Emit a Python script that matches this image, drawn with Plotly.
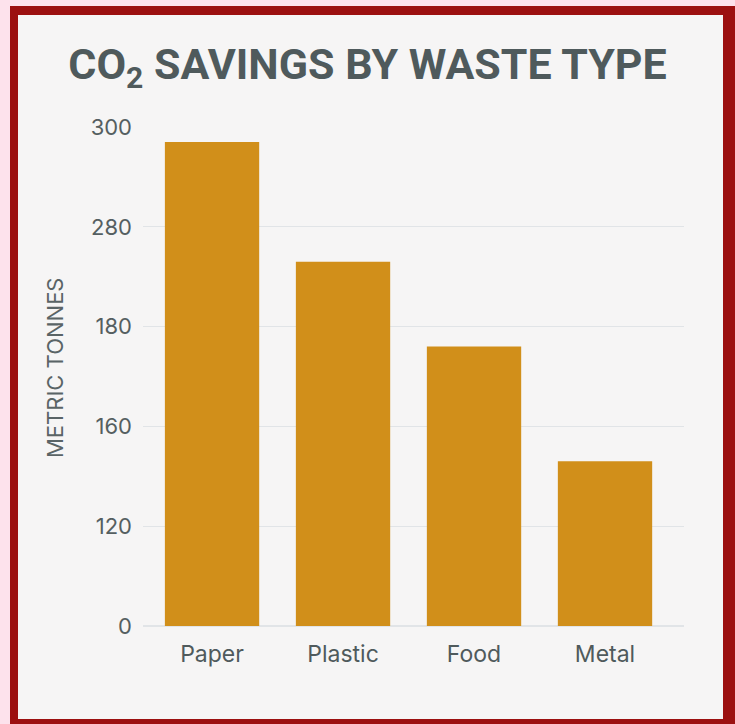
import plotly.graph_objects as go

categories = ["Paper", "Plastic", "Food", "Metal"]
# bar heights in axis units (axis spans 0-300, gridlines evenly spaced)
savings = [291, 219, 168, 99]
tick_vals = [0, 60, 120, 180, 240, 300]
tick_labels = ["0", "120", "160", "180", "280", "300"]

W, H = 735, 724
L, R, T, B = 143, 51, 127, 98
pw, ph = W - L - R, H - T - B

def px_x(p):
    return (p - L) / pw

def px_y(p):
    return (H - B - p) / ph

fig = go.Figure(go.Bar(
    x=categories, y=savings,
    marker=dict(color="#D18F1A", line=dict(width=0)),
    width=0.72,
))

shapes = [
    dict(type="rect", xref="paper", yref="paper", layer="below",
         x0=px_x(10), x1=px_x(740), y0=px_y(6), y1=px_y(730),
         fillcolor="#9C1010", line=dict(width=0)),
    dict(type="rect", xref="paper", yref="paper", layer="below",
         x0=px_x(18), x1=px_x(723), y0=px_y(15), y1=px_y(719),
         fillcolor="#F6F5F5", line=dict(width=0)),
]

fig.update_layout(
    width=W, height=H,
    margin=dict(l=L, r=R, t=T, b=B),
    paper_bgcolor="#FDE2EC",
    plot_bgcolor="rgba(0,0,0,0)",
    shapes=shapes,
    showlegend=False,
    title=dict(
        text="CO<sub>2</sub> SAVINGS BY WASTE TYPE",
        x=0.5, xref="container", xanchor="center",
        y=1 - 64 / H, yanchor="middle",
        font=dict(family="Roboto", size=43, color="#4F5A5C", weight="bold"),
    ),
    font=dict(family="Inter", color="#555F61"),
    xaxis=dict(
        range=[-0.527, 3.603],
        showgrid=False, showline=False, ticks="",
        tickfont=dict(size=23, color="#4F5A5C"),
        ticklabelstandoff=12,
    ),
    yaxis=dict(
        range=[0, 300], tickvals=tick_vals, ticktext=tick_labels,
        showgrid=True, gridcolor="#E1E4E7", gridwidth=1,
        zeroline=True, zerolinecolor="#E1E4E7", zerolinewidth=1.5,
        showline=False, ticks="",
        tickfont=dict(size=22, color="#555F61"),
        ticklabelstandoff=10,
    ),
    annotations=[dict(
        text="METRIC TONNES", textangle=-90,
        xref="paper", yref="paper", x=px_x(55), y=px_y(368),
        xanchor="center", yanchor="middle", showarrow=False,
        font=dict(family="Inter", size=22, color="#5A6466"),
    )],
)

fig.write_html(
    "out.html",
    config={"displayModeBar": False},
    post_script="document.body.style.margin='0';document.body.style.background='#FDE2EC';",
)
